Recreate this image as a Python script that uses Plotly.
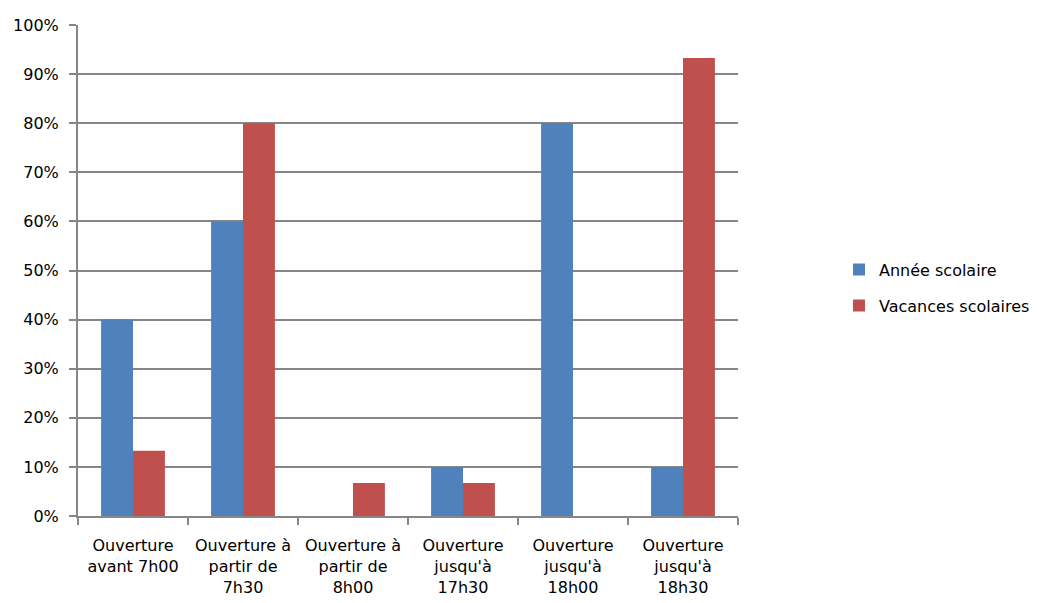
import plotly.graph_objects as go

categories = [
    "Ouverture<br>avant 7h00",
    "Ouverture à<br>partir de<br>7h30",
    "Ouverture à<br>partir de<br>8h00",
    "Ouverture<br>jusqu'à<br>17h30",
    "Ouverture<br>jusqu'à<br>18h00",
    "Ouverture<br>jusqu'à<br>18h30",
]
annee_scolaire = [0.40, 0.60, 0.0, 0.10, 0.80, 0.10]
vacances_scolaires = [0.133, 0.80, 0.067, 0.067, 0.0, 0.933]
y_ticks = [i / 10 for i in range(11)]
y_tick_labels = [f"{i*10}%" for i in range(11)]

FONT = "DejaVu Sans"
GRAY = "#868686"

fig = go.Figure()
fig.add_trace(go.Bar(name="Année scolaire", x=categories, y=annee_scolaire,
                     legendgroup="a",
                     marker=dict(color="#4F81BD", line=dict(width=0))))
fig.add_trace(go.Bar(name="Vacances scolaires", x=categories, y=vacances_scolaires,
                     legendgroup="b",
                     marker=dict(color="#C0504D", line=dict(width=0))))

fig.update_layout(
    width=1037, height=603,
    margin=dict(l=78, r=299, t=25, b=87, autoexpand=False),
    paper_bgcolor="white", plot_bgcolor="white",
    barmode="group", bargap=0.42, bargroupgap=0,
    font=dict(family=FONT, size=16, color="black"),
    legend=dict(x=(839 - 78) / 660, y=0.465, xanchor="left", yanchor="middle",
                font=dict(family=FONT, size=16), itemwidth=30,
                tracegroupgap=12, bgcolor="rgba(0,0,0,0)"),
    xaxis=dict(showline=True, linecolor=GRAY, linewidth=2, automargin=False,
               ticks="outside", tickson="boundaries", ticklen=7, tickwidth=2,
               tickcolor=GRAY, tickangle=0, ticklabelstandoff=14,
               tickfont=dict(family=FONT, size=16, color="black")),
    yaxis=dict(range=[0, 1], tickvals=y_ticks, ticktext=y_tick_labels,
               showline=True, linecolor=GRAY, linewidth=2, automargin=False,
               ticks="outside", ticklen=7, tickwidth=2, tickcolor=GRAY,
               showgrid=True, gridcolor=GRAY, gridwidth=1.5,
               zeroline=False, ticklabelstandoff=7,
               tickfont=dict(family=FONT, size=16, color="black")),
)

fig.write_html("out.html")
